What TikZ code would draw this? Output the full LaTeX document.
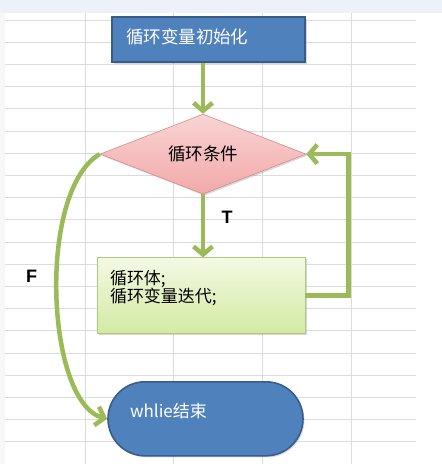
\documentclass[tikz,border=0pt]{standalone}
\usepackage{fontspec}
\usepackage{tikz}
\usetikzlibrary{shapes,positioning,arrows.meta,shadows}
\newfontfamily\cjk{Noto Sans CJK SC}
\newfontfamily\labfont{Liberation Sans}
\definecolor{boxblue}{HTML}{4F81BD}
\definecolor{boxedge}{HTML}{385D8A}
\definecolor{arrgreen}{HTML}{9BBB59}
\definecolor{gridgray}{HTML}{DADCE0}
\definecolor{bandgray}{HTML}{EEF1F8}
\definecolor{pinktop}{HTML}{F9D4D4}
\definecolor{pinkbot}{HTML}{F2A9A9}
\definecolor{pinkedge}{HTML}{D98A8A}
\definecolor{greentop}{HTML}{F3F9E4}
\definecolor{greenbot}{HTML}{D3EAA2}

\begin{document}
\begin{tikzpicture}[x=1pt, y=-1pt,
  every node/.style={font=\cjk\fontsize{17.5}{18}\selectfont},
  shade/.style={drop shadow={shadow xshift=1.5pt, shadow yshift=-1.5pt, opacity=0.3}},
  bluebox/.style={rectangle, draw=boxedge, line width=1.6pt, fill=boxblue, text=white,
                  align=left, shade},
  cond/.style={diamond, draw=pinkedge, line width=0.6pt, top color=pinktop,
               bottom color=pinkbot, inner sep=0pt, aspect=2.575, shade},
  bodybox/.style={rectangle, draw=arrgreen!80!white, line width=0.6pt,
                  top color=greentop, bottom color=greenbot, align=left, shade},
  ar/.style={-{Straight Barb[length=8pt, width=19pt]}, draw=arrgreen, line width=4.5pt},
  tf/.style={font=\labfont\bfseries\fontsize{18}{18}\selectfont}
]
  \useasboundingbox (0,0) rectangle (442,464);
  % sheet background
  \fill[white] (0,0) rectangle (442,464);
  \fill[bandgray] (0,0) rectangle (442,13);
  \fill[bandgray!60!white] (0,13) rectangle (5,464);
  \foreach \k in {0,...,19}
    \draw[gridgray, line width=0.8pt] (5,20+22.2*\k) -- (416,20+22.2*\k);
  \foreach \xx in {85,173,262,351}
    \draw[gridgray, line width=0.8pt] (\xx,13) -- (\xx,464);

  \node[bluebox, minimum width=193pt, minimum height=45pt, text width=165pt,
        inner xsep=14pt, text height=15pt, text depth=7pt] (init) at (208.5,39.5) {循环变量初始化};
  \node[cond, minimum width=206pt, minimum height=80pt, below=51pt of init, xshift=-5.5pt] (test) {循环条件};
  \node[bodybox, minimum width=208pt, minimum height=76pt, text width=182pt, inner xsep=13pt,
        font=\cjk\fontsize{17}{17.5}\selectfont, text height=15pt, text depth=38pt,
        below=63pt of test, xshift=-2pt] (body) {循环体;\\循环变量迭代;};
  \node[bluebox, rounded corners=37pt, minimum width=195pt, minimum height=74pt, text width=151pt,
        inner xsep=22pt, font=\cjk\fontsize{17}{18}\selectfont, text height=15pt, text depth=18pt,
        below=47pt of body, xshift=4.5pt] (stop) {whlie结束};

  \coordinate (back) at ([xshift=43pt]body.east);
  \draw[ar] (init.south -| test.north) -- (test.north);
  \draw[ar] (test.south) -- node[tf, pos=0.37, right=13pt] {T} (test.south |- body.north);
  \draw[ar] (body.east) -- (back) |- (test.east);
  \draw[ar] (test.west) .. controls +(-63,37) and +(-61,-16) .. node[tf, pos=0.45, left=14pt] {F} (stop.west);
\end{tikzpicture}
\end{document}
